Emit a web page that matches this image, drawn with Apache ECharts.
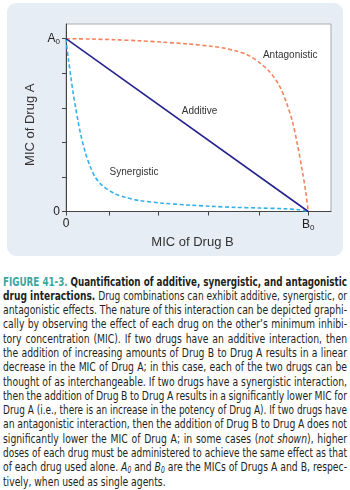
<!DOCTYPE html>
<html><head><meta charset="utf-8">
<script src="https://cdn.jsdelivr.net/npm/echarts@6/dist/echarts.min.js"></script>
<style>
html,body{margin:0;padding:0;background:#fff;width:350px;height:490px;overflow:hidden;}
#chart{position:absolute;left:0;top:0;width:350px;height:260px;}
#cap{position:absolute;left:3px;top:274.5px;width:344px;font-family:"Liberation Sans Narrow","DejaVu Sans Condensed","Liberation Sans",sans-serif;font-size:13px;line-height:14.3px;color:#231f20;}
#cap .ln{white-space:nowrap;height:14.3px;}
#cap .in{display:inline-block;transform-origin:0 0;}
.fig{color:#3aa7a2;font-weight:bold;}
</style></head>
<body>
<div id="chart"></div>
<div id="cap"></div>
<script>
// ---- data (MIC of Drug B in % of B0, MIC of Drug A in units where A0 = 5) ----
const additiveB = [0, 100];
const additiveA = [5, 0];

const synergisticB = [0, 1, 2, 3, 4, 5, 6, 8, 10, 12, 15, 20, 25, 30, 40, 50, 60, 70, 80, 90, 96, 100];
const synergisticA = [5, 4.4, 3.9, 3.4, 3.0, 2.6, 2.25, 1.7, 1.3, 1.0, 0.75, 0.52, 0.4, 0.32, 0.24, 0.19, 0.15, 0.12, 0.1, 0.08, 0.05, 0];

const antagonisticB = [0, 10, 20, 30, 40, 50, 60, 65, 70, 75, 80, 84, 88, 91, 93.5, 95.5, 97.5, 99, 100];
const antagonisticA = [5, 4.99, 4.97, 4.94, 4.9, 4.85, 4.78, 4.73, 4.65, 4.53, 4.3, 4.05, 3.65, 3.15, 2.6, 1.95, 1.2, 0.55, 0];

const xTicks = [0, 17.7, 38.2, 58.9, 79.6, 100];
const xTickLabels = {0: '0', 100: '{m|B}{s|0}'};
const yTicks = [0, 1, 2, 3, 4, 5];
const yTickLabels = {0: '0', 5: '{m|A}{s|0}'};

const seriesNames = ['Additive', 'Synergistic', 'Antagonistic'];

const captionLines = [
 '<span class="fig">FIGURE 41-3.</span> <b>Quantification of additive, synergistic, and antagonistic</b>',
 '<b>drug interactions.</b> Drug combinations can exhibit additive, synergistic, or',
 'antagonistic effects. The nature of this interaction can be depicted graphi-',
 'cally by observing the effect of each drug on the other\u2019s minimum inhibi-',
 'tory concentration (MIC). If two drugs have an additive interaction, then',
 'the addition of increasing amounts of Drug B to Drug A results in a linear',
 'decrease in the MIC of Drug A; in this case, each of the two drugs can be',
 'thought of as interchangeable. If two drugs have a synergistic interaction,',
 'then the addition of Drug B to Drug A results in a significantly lower MIC for',
 'Drug A (i.e., there is an increase in the potency of Drug A). If two drugs have',
 'an antagonistic interaction, then the addition of Drug B to Drug A does not',
 'significantly lower the MIC of Drug A; in some cases (<i>not shown</i>), higher',
 'doses of each drug must be administered to achieve the same effect as that',
 'of each drug used alone. <i>A<sub>0</sub></i> and <i>B<sub>0</sub></i> are the MICs of Drugs A and B, respec-',
 'tively, when used as single agents.'
];

// ---- caption ----
const cap = document.getElementById('cap');
captionLines.forEach(h => {
  const d = document.createElement('div'); d.className = 'ln';
  const s = document.createElement('span'); s.className = 'in'; s.innerHTML = h;
  d.appendChild(s); cap.appendChild(d);
});
document.querySelectorAll('#cap sub').forEach(e => { e.style.fontSize = '8.5px'; e.style.verticalAlign = '-2px'; e.style.lineHeight = '0'; });
const spans = Array.from(document.querySelectorAll('#cap .in'));
const W = 344;
const widths = spans.map(s => s.getBoundingClientRect().width);
let sc = 0; for (let i = 1; i < spans.length - 1; i++) sc += W / widths[i];
sc /= (spans.length - 2);
spans.forEach((s, i) => {
  let k = sc;
  if (i < spans.length - 1) {
    const n = (s.textContent.match(/ /g) || []).length;
    let ws = (W - widths[i] * k) / (n * k);
    if (ws < -0.6) { k = W / widths[i]; ws = 0; }
    s.style.wordSpacing = ws + 'px';
  }
  s.style.transform = 'scaleX(' + k + ')';
});

// ---- chart ----
const zip = (xs, ys) => xs.map((x, i) => [x, ys[i]]);
const font = '"Liberation Sans", Arial, sans-serif';
const chart = echarts.init(document.getElementById('chart'), null, {renderer: 'canvas'});
const rich = {m: {fontSize: 12, color: '#222', fontFamily: font}, s: {fontSize: 8, color: '#222', fontFamily: font, padding: [6, 0, 0, 0]}};
const annot = (text, coord) => ({
  symbol: 'circle', symbolSize: 0, silent: true,
  label: {show: true, position: 'right', distance: 0, formatter: text, color: '#333', fontSize: 10, fontFamily: font},
  data: [{coord: coord}]
});
chart.setOption({
  animation: false,
  graphic: [{type: 'rect', z: -10, shape: {x: 7, y: 3, width: 336, height: 253, r: 9}, style: {fill: '#e7edf5'}}],
  grid: {left: 66, top: 24, right: 19, bottom: 48.5, show: true, backgroundColor: '#fff', borderColor: '#a9a9a9', borderWidth: 1},
  xAxis: {
    type: 'value', min: 0, max: 109.4,
    name: 'MIC of Drug B', nameLocation: 'middle', nameGap: 20,
    nameTextStyle: {fontSize: 13, color: '#333', fontFamily: font, padding: [0, 12, 0, 0]},
    axisLine: {show: true, lineStyle: {color: '#444', width: 1}},
    axisTick: {show: true, length: 4, lineStyle: {color: '#444'}, customValues: xTicks},
    axisLabel: {customValues: [0, 100], margin: 6, formatter: v => xTickLabels[Math.round(v)] || '', fontSize: 12, color: '#222', fontFamily: font, rich: rich},
    splitLine: {show: false}
  },
  yAxis: {
    type: 'value', min: 0, max: 5.425,
    name: 'MIC of Drug A', nameLocation: 'middle', nameGap: 29,
    nameTextStyle: {fontSize: 13, color: '#333', fontFamily: font, padding: [0, 14, 0, 0]},
    axisLine: {show: true, lineStyle: {color: '#444', width: 1}},
    axisTick: {show: true, length: 4, lineStyle: {color: '#444'}, customValues: yTicks},
    axisLabel: {customValues: [0, 5], margin: 6, formatter: v => yTickLabels[Math.round(v)] || '', fontSize: 12, color: '#222', fontFamily: font, rich: rich},
    splitLine: {show: false}
  },
  series: [
    {name: seriesNames[2], type: 'line', data: zip(antagonisticB, antagonisticA), showSymbol: false, smooth: 0.3,
     lineStyle: {color: '#f5825d', width: 1.6, type: [4, 2.5]}, markPoint: annot(seriesNames[2], [81.3, 4.53])},
    {name: seriesNames[1], type: 'line', data: zip(synergisticB, synergisticA), showSymbol: false, smooth: 0.3,
     lineStyle: {color: '#35b1ea', width: 1.6, type: [4, 2.5]}, markPoint: annot(seriesNames[1], [18.0, 1.15])},
    {name: seriesNames[0], type: 'line', data: zip(additiveB, additiveA), showSymbol: false,
     lineStyle: {color: '#25248f', width: 1.6}, markPoint: annot(seriesNames[0], [47.8, 2.91])}
  ]
});
</script>
</body></html>
